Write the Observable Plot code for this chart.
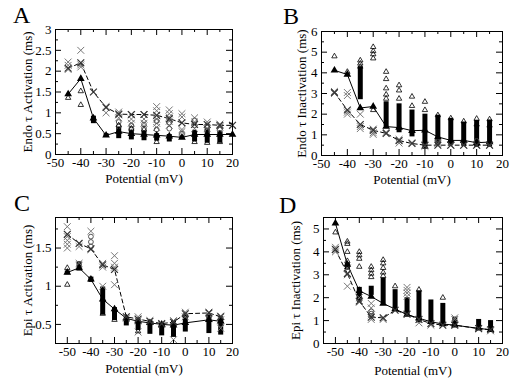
<!DOCTYPE html>
<html><head><meta charset="utf-8">
<script src="https://cdn.jsdelivr.net/npm/d3@7"></script>
<script src="https://cdn.jsdelivr.net/npm/@observablehq/plot@0.6"></script>
<style>
body{margin:0;background:#fff;}
#wrap{position:relative;width:512px;height:381px;overflow:hidden;background:#fff;}
#wrap svg{position:absolute;font-family:"Liberation Serif",serif !important;}
#wrap svg text{font-family:"Liberation Serif",serif !important;}
.letter{position:absolute;font-size:24px;font-family:"Liberation Serif",serif;line-height:24px;color:#000;}
</style></head><body><div id="wrap"></div>
<script>
// ---------- Panel A : Endo tau activation ----------
const aSolid = [[-45,1.45],[-40,1.82],[-35,0.87],[-30,0.46],[-25,0.55],[-20,0.5],[-15,0.48],[-10,0.46],[-5,0.44],[0,0.41],[5,0.48],[10,0.48],[15,0.48],[20,0.48]];
const aDashed = [[-45,2.07],[-40,2.2],[-35,1.5],[-30,1.13],[-25,0.97],[-20,0.96],[-15,0.96],[-10,0.94],[-5,0.86],[0,0.76],[5,0.72],[10,0.72],[15,0.7],[20,0.7]];
const aColumns = [[-35,0.74,0.92],[-30,0.41,0.5],[-25,0.38,0.65],[-20,0.35,0.58],[-15,0.33,0.56],[-10,0.32,0.5],[-5,0.3,0.48],[0,0.37,0.45],[5,0.3,0.58],[10,0.27,0.62],[15,0.27,0.55]];
const aTriangles = [[-45,1.36],[-40,1.52],[-40,1.19],[-25,0.7],[-20,0.62],[-15,0.6],[-10,0.3],[5,0.3],[10,0.28],[15,0.3]];
const aCrosses = [[-45,2.22],[-45,2.14],[-45,2.04],[-40,2.5],[-40,2.15],[-40,2.1],[-30,1.15],[-30,1.0],[-25,1.02],[-25,0.95],[-25,0.88],[-20,0.95],[-20,0.85],[-20,0.75],[-15,0.96],[-15,0.85],[-15,0.75],[-10,1.15],[-10,1.05],[-10,0.85],[-10,0.75],[-10,0.65],[-5,1.07],[-5,0.98],[-5,0.9],[-5,0.8],[-5,0.7],[0,0.98],[0,0.9],[0,0.6],[0,0.55],[5,0.88],[5,0.78],[5,0.62],[10,0.78],[10,0.62],[15,0.73],[15,0.66]];
const aCircles = [[-25,0.78],[-25,0.68],[-20,0.7],[-20,0.62],[-15,0.72],[-15,0.63],[-10,0.8],[-10,0.6],[-5,0.76],[-5,0.62],[0,0.5],[5,0.82],[5,0.7],[10,0.68],[10,0.58],[15,0.6],[15,0.52]];
const aYTicks = [0,0.5,1,1.5,2,2.5,3];
const aYMinor = [0.25,0.75,1.25,1.75,2.25,2.75];

// ---------- Panel B : Endo tau inactivation ----------
const bSolid = [[-45,4.12],[-40,3.92],[-35,2.3],[-30,2.37],[-25,1.4],[-20,1.35],[-15,1.2],[-10,1.22],[-5,0.9],[0,0.73],[5,0.73],[10,0.62],[15,0.65]];
const bDashed = [[-45,3.05],[-40,2.2],[-35,1.5],[-30,1.22],[-25,1.07],[-20,0.72],[-15,0.58],[-10,0.5],[-5,0.5],[0,0.5],[5,0.5],[10,0.5],[15,0.5]];
const bColumns = [[-35,2.7,4.3],[-25,1.4,2.6],[-20,1.1,2.5],[-15,0.9,2.2],[-10,0.3,2.0],[-5,0.5,1.95],[0,0.5,1.8],[5,0.45,1.62],[10,0.4,1.7],[15,0.4,1.72]];
const bTriangles = [[-45,4.8],[-40,4.05],[-35,4.6],[-35,4.45],[-35,4.3],[-30,5.25],[-30,5.05],[-30,4.9],[-30,4.7],[-30,2.2],[-25,4.05],[-25,3.7],[-25,3.25],[-25,2.95],[-25,2.75],[-20,3.4],[-20,3.15],[-20,2.75],[-15,2.85],[-15,2.4],[-10,2.6],[-10,2.2],[-5,1.95],[0,1.8],[5,1.65],[10,1.78],[10,1.5],[15,1.75],[15,1.45]];
const bCrosses = [[-45,3.1],[-45,3.0],[-40,3.05],[-40,2.9],[-40,2.1],[-40,2.0],[-35,2.0],[-35,1.4],[-35,1.3],[-30,1.28],[-30,1.1],[-30,1.02],[-25,1.12],[-20,0.78],[-20,0.6],[-15,0.62],[-10,0.45],[-5,0.58],[0,0.5],[5,0.5],[10,0.5],[15,0.5]];
const bCircles = [[-5,0.8],[-5,0.68],[0,0.62],[10,0.7],[15,0.6]];
const bYTicks = [0,1,2,3,4,5,6];
const bYMinor = [0.5,1.5,2.5,3.5,4.5,5.5];

// ---------- Panel C : Epi tau activation ----------
const cSolid = [[-50,1.18],[-45,1.24],[-40,1.09],[-35,0.83],[-30,0.7],[-25,0.58],[-20,0.54],[-15,0.52],[-10,0.5],[-5,0.49],[0,0.52],[10,0.56],[15,0.54]];
const cDashed = [[-50,1.68],[-45,1.56],[-40,1.49],[-35,1.28],[-30,1.22],[-25,0.6],[-20,0.57],[-15,0.54],[-10,0.51],[-5,0.53],[0,0.64],[10,0.65],[15,0.6]];
const cColumns = [[-50,1.15,1.2],[-45,1.2,1.32],[-40,1.05,1.12],[-35,0.62,0.99],[-30,0.55,0.72],[-25,0.48,0.6],[-20,0.42,0.58],[-15,0.37,0.55],[-10,0.35,0.52],[-5,0.33,0.55],[0,0.4,0.62],[10,0.38,0.62],[15,0.36,0.6]];
const cTriangles = [[-50,1.24],[-50,1.02],[-35,0.64],[-30,0.56],[-20,0.41]];
const cCrosses = [[-50,1.78],[-50,1.65],[-50,1.6],[-50,1.55],[-50,1.5],[-45,1.52],[-45,1.3],[-45,1.27],[-40,1.72],[-40,1.48],[-35,1.3],[-35,1.25],[-35,1.0],[-30,1.4],[-30,1.3],[-30,1.25],[-30,1.02],[-25,0.58],[-20,0.6],[-20,0.55],[-20,0.4],[-15,0.55],[-10,0.5],[-5,0.55],[-5,0.3],[0,0.66],[0,0.6],[10,0.66],[10,0.58],[15,0.61],[15,0.56],[15,0.45]];
const cCircles = [[-40,1.65],[-40,1.58],[-40,1.52],[0,0.62],[10,0.6],[15,0.5]];
const cYTicks = [0.5,1,1.5];
const cYMinor = [0.25,0.75,1.25,1.75];

// ---------- Panel D : Epi tau inactivation ----------
const dSolid = [[-50,5.25],[-45,3.45],[-40,2.3],[-35,2.05],[-30,1.75],[-25,1.5],[-20,1.27],[-15,1.1],[-10,0.95],[-5,0.85],[0,0.8],[10,0.66],[15,0.6]];
const dDashed = [[-50,4.1],[-45,3.05],[-40,1.85],[-35,1.15],[-30,1.12],[-25,1.45],[-20,1.28],[-15,1.05],[-10,0.87],[-5,0.8],[0,0.8],[10,0.65],[15,0.6]];
const dColumns = [[-45,3.2,3.5],[-40,1.8,2.45],[-35,2.1,2.5],[-30,1.75,2.85],[-25,1.4,2.35],[-20,1.25,2.0],[-15,0.9,2.3],[-10,0.85,1.9],[-5,0.8,1.75],[0,0.78,1.15],[10,0.6,1.05],[15,0.55,1.0]];
const dTriangles = [[-50,4.85],[-45,4.45],[-45,4.35],[-45,4.0],[-45,3.6],[-40,4.0],[-40,3.85],[-40,3.7],[-40,3.35],[-35,3.35],[-35,3.2],[-35,3.05],[-35,2.9],[-30,3.65],[-30,3.5],[-30,3.3],[-30,3.1],[-30,2.95],[-25,2.5],[-15,2.35],[-5,2.0]];
const dCrosses = [[-50,4.2],[-50,4.12],[-50,4.0],[-45,3.3],[-45,3.0],[-45,2.5],[-40,2.0],[-40,1.8],[-35,1.75],[-35,1.55],[-35,1.25],[-35,1.05],[-30,1.05],[-20,2.45],[-20,2.32],[-20,2.2],[-20,2.05],[-15,0.9],[-10,0.8],[0,1.12],[0,1.05],[10,0.65],[15,0.55]];
const dCircles = [[-35,1.4],[-35,1.3],[-35,1.2]];
const dYTicks = [0,1,2,3,4,5];
const dYMinor = [0.5,1.5,2.5,3.5,4.5];

const xTicksAB = [-50,-40,-30,-20,-10,0,10,20];
const xMinorAB = [-45,-35,-25,-15,-5,5,15];
const xTicksCD = [-50,-40,-30,-20,-10,0,10,20];
const xMinorCD = [-55,-45,-35,-25,-15,-5,5,15];
const xLabel = "Potential (mV)";

const panels = [
  {letter:"A", left:0, top:0, width:256, height:190, mL:55, mR:24, mT:29, mB:36,
   xDomain:[-50,20], yDomain:[0,3], solid:aSolid, dashed:aDashed, cols:aColumns, tris:aTriangles, crosses:aCrosses, circles:aCircles,
   yTicks:aYTicks, yMinor:aYMinor, xTicks:xTicksAB, xMinor:xMinorAB, ylabel:"Endo τ Activation (ms)", ylDx:-28, xlDy:24, lx:13, ly:3},
  {letter:"B", left:256, top:0, width:256, height:190, mL:65, mR:10, mT:31, mB:35,
   xDomain:[-50,20], yDomain:[0,6], solid:bSolid, dashed:bDashed, cols:bColumns, tris:bTriangles, crosses:bCrosses, circles:bCircles,
   yTicks:bYTicks, yMinor:bYMinor, xTicks:xTicksAB, xMinor:xMinorAB, ylabel:"Endo τ Inactivation (ms)", ylDx:-20, xlDy:24, lx:283, ly:4},
  {letter:"C", left:0, top:190, width:256, height:191, mL:55, mR:24, mT:27, mB:38,
   xDomain:[-55,20], yDomain:[0.25,1.9], solid:cSolid, dashed:cDashed, cols:cColumns, tris:cTriangles, crosses:cCrosses, circles:cCircles,
   yTicks:cYTicks, yMinor:cYMinor, xTicks:xTicksCD, xMinor:xMinorCD, ylabel:"Epi τ Activation (ms)", ylDx:-28, xlDy:25, lx:14, ly:191},
  {letter:"D", left:256, top:190, width:256, height:191, mL:67, mR:10, mT:27, mB:38,
   xDomain:[-55,20], yDomain:[0,5.5], solid:dSolid, dashed:dDashed, cols:dColumns, tris:dTriangles, crosses:dCrosses, circles:dCircles,
   yTicks:dYTicks, yMinor:dYMinor, xTicks:xTicksCD, xMinor:xMinorCD, ylabel:"Epi τ Inactivation (ms)", ylDx:-28, xlDy:27, lx:279, ly:193}
];

const X = d => d[0], Y = d => d[1], I = d => d;
const fmt = d => String(d);
const wrap = document.getElementById("wrap");
const FONT = "Liberation Serif";

for (const p of panels) {
  const iw = p.width - p.mL - p.mR;   // inner width in px
  const ih = p.height - p.mT - p.mB;  // inner height in px
  const inward = (len) => [
    Plot.tickX(len === 6 ? p.xTicks : p.xMinor, {x: I, insetTop: ih - len, stroke: "black"}),
    Plot.tickX(len === 6 ? p.xTicks : p.xMinor, {x: I, insetBottom: ih - len, stroke: "black"}),
    Plot.tickY(len === 6 ? p.yTicks : p.yMinor, {y: I, insetRight: iw - len, stroke: "black"}),
    Plot.tickY(len === 6 ? p.yTicks : p.yMinor, {y: I, insetLeft: iw - len, stroke: "black"})
  ];
  const svg = Plot.plot({
    width: p.width, height: p.height,
    marginLeft: p.mL, marginRight: p.mR, marginTop: p.mT, marginBottom: p.mB,
    x: {domain: p.xDomain}, y: {domain: p.yDomain},
    style: {fontFamily: FONT, fontSize: "13px", background: "white", color: "black", overflow: "visible"},
    marks: [
      Plot.ruleX(p.cols, {x: X, y1: d => d[1], y2: d => d[2], stroke: "black", strokeWidth: 5}),
      Plot.line(p.solid, {x: X, y: Y, stroke: "black", strokeWidth: 1}),
      Plot.line(p.dashed, {x: X, y: Y, stroke: "black", strokeWidth: 1, strokeDasharray: "4,3"}),
      Plot.dot(p.crosses, {x: X, y: Y, symbol: "times", r: 3.2, stroke: "#777", strokeWidth: 1}),
      Plot.dot(p.circles, {x: X, y: Y, symbol: "circle", r: 2.4, stroke: "#555", fill: "none", strokeWidth: 1}),
      Plot.dot(p.tris, {x: X, y: Y, symbol: "triangle", r: 2, stroke: "black", fill: "none", strokeWidth: 0.8}),
      Plot.dot(p.solid, {x: X, y: Y, symbol: "triangle", r: 1.9, fill: "black", stroke: "black"}),
      Plot.dot(p.dashed, {x: X, y: Y, symbol: "times", r: 3.2, stroke: "#333", strokeWidth: 1.2}),
      Plot.frame({stroke: "black"}),
      ...inward(6),
      ...inward(3),
      Plot.axisX({ticks: p.xTicks, anchor: "bottom", tickSize: 0, tickPadding: 3, tickFormat: fmt, label: null, fontSize: 13, fontFamily: FONT}),
      Plot.axisY({ticks: p.yTicks, anchor: "left", tickSize: 0, tickPadding: 4, tickFormat: fmt, label: null, fontSize: 13, fontFamily: FONT}),
      Plot.text([xLabel], {frameAnchor: "bottom", dy: p.xlDy, text: I, fontSize: 13, fontFamily: FONT, textAnchor: "middle", lineAnchor: "middle"}),
      Plot.text([p.ylabel], {frameAnchor: "left", dx: p.ylDx, rotate: -90, text: I, fontSize: 13, fontFamily: FONT, textAnchor: "middle", lineAnchor: "middle"})
    ]
  });
  svg.style.left = p.left + "px";
  svg.style.top = p.top + "px";
  wrap.appendChild(svg);
  const L = document.createElement("div");
  L.className = "letter";
  L.textContent = p.letter;
  L.style.left = p.lx + "px";
  L.style.top = p.ly + "px";
  wrap.appendChild(L);
}
</script>
</body></html>
